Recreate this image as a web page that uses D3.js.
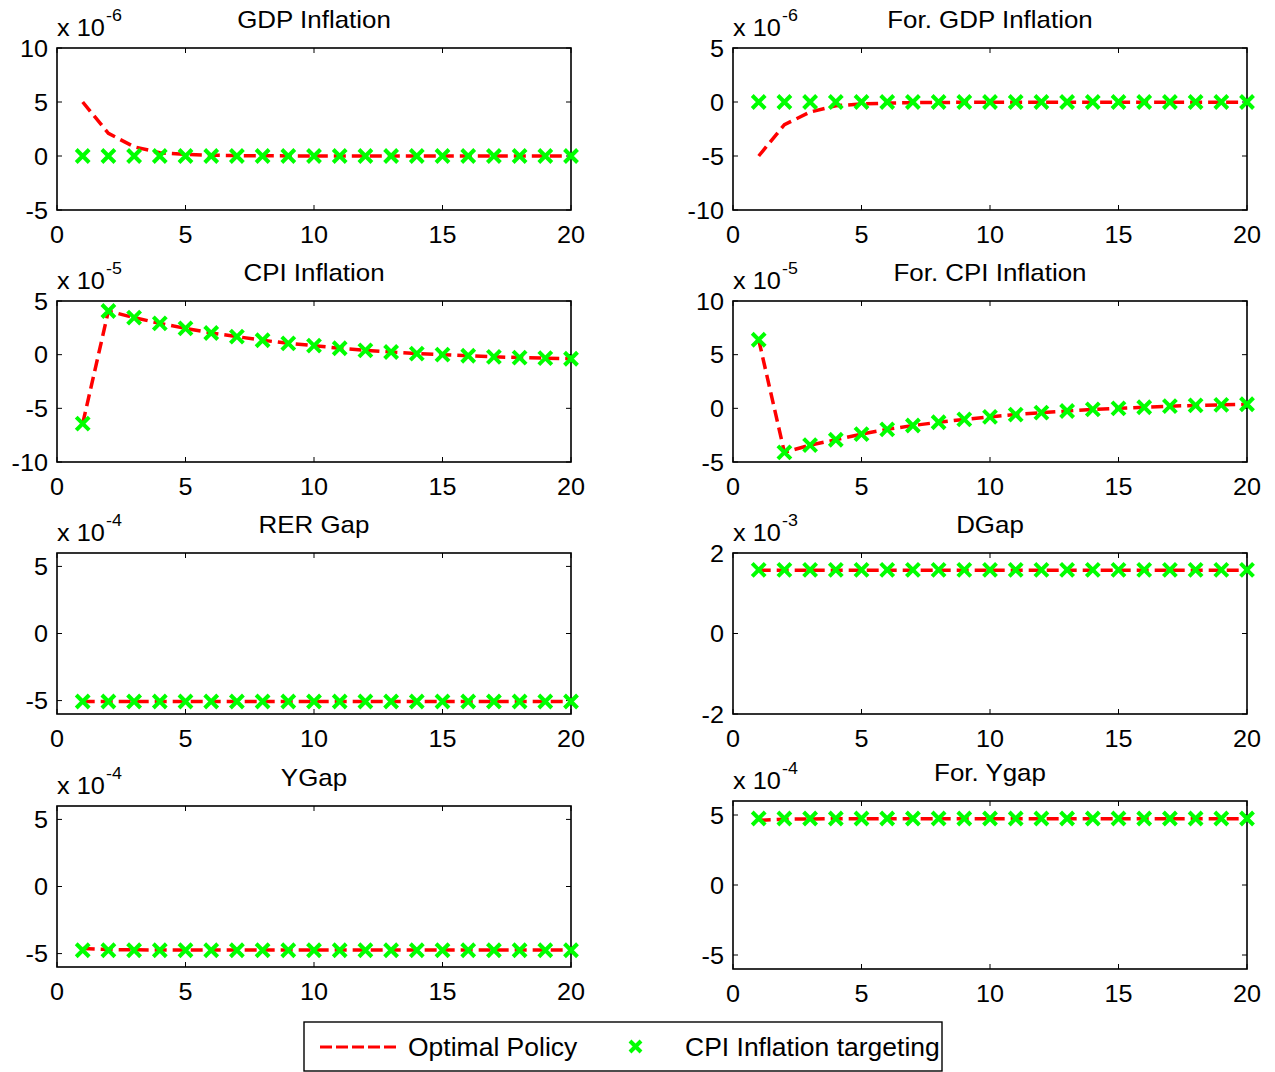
<!DOCTYPE html>
<html>
<head>
<meta charset="utf-8">
<script src="https://cdn.jsdelivr.net/npm/d3@7"></script>
<style>
  body { margin: 0; background: #fff; }
  text { font-family: "Liberation Sans", Arial, Helvetica, sans-serif; fill: #000; }
</style>
</head>
<body>
<div id="plot"></div>
<script>
// impulse responses, periods 1..20 (values in units of the panel's exponent)
var periods = [1,2,3,4,5,6,7,8,9,10,11,12,13,14,15,16,17,18,19,20];

var gdpInflOpt = [5, 2.1, 0.85, 0.3, 0.15, 0.07, 0.04, 0.02, 0.01, 0, 0, 0, 0, 0, 0, 0, 0, 0, 0, 0];
var gdpInflCpi = [0, 0, 0, 0, 0, 0, 0, 0, 0, 0, 0, 0, 0, 0, 0, 0, 0, 0, 0, 0];
var forGdpOpt  = [-5, -2.1, -0.93, -0.35, -0.18, -0.1, -0.06, -0.04, -0.03, -0.02, -0.02, -0.02, -0.02, -0.02, -0.02, -0.02, -0.02, -0.02, -0.02, -0.02];
var forGdpCpi  = [0, 0, 0, 0, 0, 0, 0, 0, 0, 0, 0, 0, 0, 0, 0, 0, 0, 0, 0, 0];
var cpiInfl    = [-6.43, 4.07, 3.45, 2.92, 2.45, 2.02, 1.68, 1.34, 1.06, 0.84, 0.6, 0.4, 0.25, 0.1, 0, -0.1, -0.2, -0.27, -0.33, -0.38];
var forCpiInfl = [6.39, -4.1, -3.43, -2.93, -2.4, -1.96, -1.6, -1.3, -1.03, -0.8, -0.58, -0.4, -0.25, -0.1, 0, 0.1, 0.2, 0.27, 0.33, 0.38];
var rerGapOpt  = [-5.07, -5.07, -5.07, -5.07, -5.07, -5.07, -5.07, -5.07, -5.07, -5.07, -5.07, -5.07, -5.07, -5.07, -5.07, -5.07, -5.07, -5.07, -5.07, -5.07];
var rerGapCpi  = [-5.07, -5.07, -5.07, -5.07, -5.07, -5.07, -5.07, -5.07, -5.07, -5.07, -5.07, -5.07, -5.07, -5.07, -5.07, -5.07, -5.07, -5.07, -5.07, -5.07];
var dGapOpt    = [1.57, 1.57, 1.57, 1.57, 1.57, 1.57, 1.57, 1.57, 1.57, 1.57, 1.57, 1.57, 1.57, 1.57, 1.57, 1.57, 1.57, 1.57, 1.57, 1.57];
var dGapCpi    = [1.58, 1.58, 1.58, 1.58, 1.58, 1.58, 1.58, 1.58, 1.58, 1.58, 1.58, 1.58, 1.58, 1.58, 1.58, 1.58, 1.58, 1.58, 1.58, 1.58];
var yGapOpt    = [-4.62, -4.7, -4.72, -4.73, -4.74, -4.74, -4.74, -4.74, -4.74, -4.74, -4.74, -4.74, -4.74, -4.74, -4.74, -4.74, -4.74, -4.74, -4.74, -4.74];
var yGapCpi    = [-4.75, -4.75, -4.75, -4.75, -4.75, -4.75, -4.75, -4.75, -4.75, -4.75, -4.75, -4.75, -4.75, -4.75, -4.75, -4.75, -4.75, -4.75, -4.75, -4.75];
var forYGapOpt = [4.62, 4.7, 4.72, 4.73, 4.74, 4.74, 4.74, 4.74, 4.74, 4.74, 4.74, 4.74, 4.74, 4.74, 4.74, 4.74, 4.74, 4.74, 4.74, 4.74];
var forYGapCpi = [4.75, 4.75, 4.75, 4.75, 4.75, 4.75, 4.75, 4.75, 4.75, 4.75, 4.75, 4.75, 4.75, 4.75, 4.75, 4.75, 4.75, 4.75, 4.75, 4.75];

var xTicks = [0, 5, 10, 15, 20];
var legendLabels = ["Optimal Policy", "CPI Inflation targeting"];

var panels = [
  {title: "GDP Inflation",     exp: "-6", dom: [-5, 10], ticks: [-5, 0, 5, 10], opt: gdpInflOpt, cpi: gdpInflCpi, col: 0, top: 48,  bot: 210},
  {title: "For. GDP Inflation", exp: "-6", dom: [-10, 5], ticks: [-10, -5, 0, 5], opt: forGdpOpt, cpi: forGdpCpi, col: 1, top: 48,  bot: 210},
  {title: "CPI Inflation",     exp: "-5", dom: [-10, 5], ticks: [-10, -5, 0, 5], opt: cpiInfl, cpi: cpiInfl, col: 0, top: 301, bot: 462},
  {title: "For. CPI Inflation", exp: "-5", dom: [-5, 10], ticks: [-5, 0, 5, 10], opt: forCpiInfl, cpi: forCpiInfl, col: 1, top: 301, bot: 462},
  {title: "RER Gap",           exp: "-4", dom: [-6, 6], ticks: [-5, 0, 5], opt: rerGapOpt, cpi: rerGapCpi, col: 0, top: 553, bot: 714},
  {title: "DGap",              exp: "-3", dom: [-2, 2], ticks: [-2, 0, 2], opt: dGapOpt, cpi: dGapCpi, col: 1, top: 553, bot: 714},
  {title: "YGap",              exp: "-4", dom: [-6, 6], ticks: [-5, 0, 5], opt: yGapOpt, cpi: yGapCpi, col: 0, top: 806, bot: 967},
  {title: "For. Ygap",         exp: "-4", dom: [-6, 6], ticks: [-5, 0, 5], opt: forYGapOpt, cpi: forYGapCpi, col: 1, top: 801, bot: 969}
];

var colX = [[57, 571], [733, 1247]];

var svg = d3.select("div#plot").append("svg")
    .attr("width", 1275)
    .attr("height", 1072);

// stretched text, like the exported figure
function addText(g, str, x, y, size, sx, anchor) {
  return g.append("text")
      .attr("transform", "translate(" + x + "," + y + ") scale(" + sx + ",1)")
      .attr("text-anchor", anchor || "start")
      .style("font-size", size + "px")
      .text(str);
}

panels.forEach(function(p) {
  var x0 = colX[p.col][0], x1 = colX[p.col][1];
  var x = d3.scaleLinear().domain([0, 20]).range([x0, x1]);
  var y = d3.scaleLinear().domain(p.dom).range([p.bot, p.top]);
  var g = svg.append("g");

  // ticks on all four sides, pointing inward
  g.selectAll(".xt").data(xTicks).enter().append("path")
      .attr("d", function(d) { return "M" + x(d) + "," + p.bot + "v-5M" + x(d) + "," + p.top + "v5"; })
      .attr("stroke", "#000").attr("stroke-width", 1);
  g.selectAll(".yt").data(p.ticks).enter().append("path")
      .attr("d", function(d) { return "M" + x0 + "," + y(d) + "h5M" + x1 + "," + y(d) + "h-5"; })
      .attr("stroke", "#000").attr("stroke-width", 1);

  g.append("rect")
      .attr("x", x0).attr("y", p.top)
      .attr("width", x1 - x0).attr("height", p.bot - p.top)
      .attr("fill", "none").attr("stroke", "#000").attr("stroke-width", 1.6);

  xTicks.forEach(function(t) { addText(g, t, x(t), p.bot + 32.5, 24, 1.05, "middle"); });
  p.ticks.forEach(function(t) { addText(g, t, x0 - 9, y(t) + 8.5, 24, 1.05, "end"); });

  addText(g, p.title, (x0 + x1) / 2, p.top - 20, 24, 1.08, "middle");
  addText(g, "x 10", x0, p.top - 12, 23, 1.1, "start");
  addText(g, p.exp, x0 + 49, p.top - 27, 17, 1.05, "start");

  var line = d3.line().x(function(d, i) { return x(periods[i]); }).y(function(d) { return y(d); });
  g.append("path")
      .datum(p.opt)
      .attr("d", line)
      .attr("fill", "none")
      .attr("stroke", "#ff0000")
      .attr("stroke-width", 3.5)
      .attr("stroke-dasharray", "12,6");

  var s = 6.5;
  g.selectAll(".mk").data(p.cpi).enter().append("path")
      .attr("d", function(d, i) {
        var cx = x(periods[i]), cy = y(d);
        return "M" + (cx - s) + "," + (cy - s) + "L" + (cx + s) + "," + (cy + s) +
               "M" + (cx - s) + "," + (cy + s) + "L" + (cx + s) + "," + (cy - s);
      })
      .attr("stroke", "#00ff00")
      .attr("stroke-width", 4);
});

// legend
var lg = svg.append("g");
lg.append("rect").attr("x", 304).attr("y", 1022).attr("width", 638).attr("height", 49)
    .attr("fill", "#fff").attr("stroke", "#000").attr("stroke-width", 1.4);
lg.append("path").attr("d", "M320,1047H396")
    .attr("stroke", "#ff0000").attr("stroke-width", 3).attr("stroke-dasharray", "12,4");
addText(lg, legendLabels[0], 408, 1056, 25, 1.06, "start");
lg.append("path").attr("d", "M630,1041L641,1052M630,1052L641,1041")
    .attr("stroke", "#00ff00").attr("stroke-width", 4);
addText(lg, legendLabels[1], 685, 1056, 25, 1.06, "start");
</script>
</body>
</html>
